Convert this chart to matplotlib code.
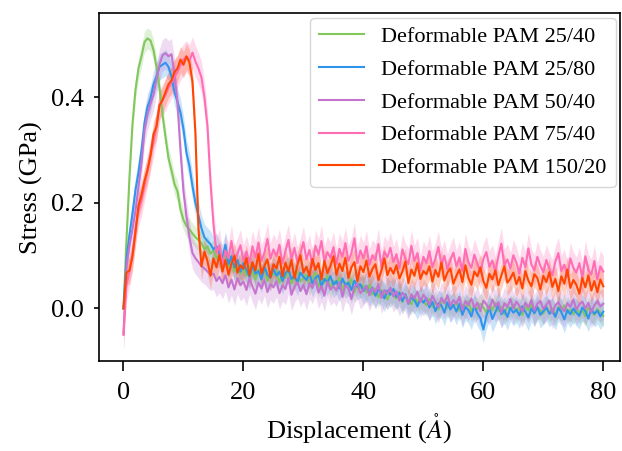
import numpy as np
import matplotlib
matplotlib.use('Agg')
import matplotlib.pyplot as plt

plt.rcParams.update({
    'font.family': 'Liberation Serif',
    'mathtext.fontset': 'stix',
    'font.size': 19,
})

# Displacement grid (Angstrom), sampled every 0.5 A
DISP = np.linspace(0, 80, 161)

# Stress values in MPa
PAM_25_40 = [0, 130, 250, 350, 415, 455, 478, 505, 512, 508, 490, 458, 418, 368, 325, 285,
             262, 236, 222, 188, 168, 156, 150, 142, 135, 130, 124, 112, 118, 104, 110, 96, 100,
             88, 102, 79, 91, 70, 84, 66, 78,
             62, 81, 69, 55, 74, 60, 77, 52, 68, 63,
             71, 49, 66, 58, 75, 47, 62, 70, 51, 59,
             64, 44, 57, 68, 41, 55, 49, 62, 38, 53,
             46, 58, 35, 50, 43, 56, 31, 47, 39, 44,
             30, 45, 26, 38, 21, 35, 29, 17, 33, 24,
             19, 31, 12, 26, 15, 8, 23, 11, 20, 14,
             6, 18, 3, 13, -2, 10, 16, 1, 9, 4,
             12, -4, 7, 0, 14, -6, 5, -1, 9, 2,
             -8, 6, -3, 10, -5, 3, -11, 4, -2, 7,
             -6, 2, -12, 5, -4, 8, -9, 1, -3, -10,
             4, -7, 0, -13, 3, -5, 6, -8, -2, -11,
             1, -9, -4, -15, 2, -6, -12, -1, -8, -14]

PAM_25_80 = [0, 95, 140, 180, 225, 258, 300, 352, 382, 398, 425, 440, 458, 462, 466, 458,
             440, 410, 392, 372, 340, 295, 270, 232, 200, 176, 152, 135, 128, 122, 112, 118, 104,
             96, 121, 84, 99, 78, 92, 70, 86,
             73, 60, 82, 66, 71, 55, 79, 64, 58, 75,
             62, 70, 52, 67, 74, 56, 63, 49, 68, 60,
             54, 66, 47, 58, 63, 42, 56, 50, 61, 45,
             52, 38, 57, 44, 49, 35, 53, 41, 46, 33,
             43, 29, 40, 24, 36, 31, 19, 34, 26, 37,
             22, 30, 14, 27, 9, 21, 16, 4, 18, 11,
             20, 2, 13, -5, 10, 6, -8, 12, -2, 7,
             -6, 9, -12, 3, -3, -15, 5, -9, -18, -40,
             -14, 2, -20, -7, 6, -11, -3, -16, 1, -8,
             -2, -13, 4, -6, -17, 0, -9, 3, -12, -5,
             2, -10, -4, -16, 1, -7, -21, -3, -11, 0,
             -8, -14, 2, -5, -19, -1, -10, -4, -15, -6]

PAM_50_40 = [-48, 80, 120, 150, 185, 230, 275, 338, 368, 388, 405, 435, 462, 480, 484, 478,
             482, 445, 390, 300, 222, 175, 135, 105, 95, 88, 80, 76, 70, 64, 66, 52, 60,
             48, 63, 40, 55, 36, 58, 44, 51,
             35, 57, 42, 28, 49, 38, 54, 31, 46, 40,
             52, 29, 44, 37, 58, 26, 41, 50, 33, 45,
             27, 48, 39, 55, 30, 43, 24, 51, 36, 42,
             34, 50, 22, 44, 38, 18, 41, 47, 29, 36,
             43, 25, 39, 31, 46, 20, 35, 28, 40, 23,
             33, 15, 30, 24, 9, 27, 19, 32, 12, 26,
             18, 7, 24, 13, 2, 20, 10, 25, 5, 16,
             9, 22, -3, 14, 6, 19, 1, 11, -5, 15,
             8, -2, 17, 4, 12, -8, 10, 3, 18, 0,
             13, 5, -6, 11, 2, 16, -4, 9, 14, -1,
             7, 15, -9, 6, 12, 1, -5, 10, 3, 17,
             -2, 8, 13, 0, 11, -7, 6, 14, 4, 9]

PAM_75_40 = [-50, 45, 70, 100, 150, 185, 205, 232, 262, 290, 315, 345, 385, 395, 405, 418,
             428, 440, 448, 462, 472, 478, 470, 485, 468, 455, 438, 400, 345, 240, 160, 105, 120,
             82, 110, 95, 128, 88, 104, 120, 91,
             108, 86, 118, 97, 125, 90, 106, 132, 94, 112,
             99, 121, 85, 109, 130, 92, 115, 87, 104, 126,
             93, 111, 80, 119, 102, 128, 88, 107, 96, 116,
             84, 113, 98, 124, 90, 105, 133, 86, 110, 95,
             118, 83, 101, 92, 122, 79, 108, 97, 115, 88,
             103, 76, 112, 94, 84, 119, 90, 105, 72, 98,
             86, 109, 78, 95, 117, 83, 100, 74, 92, 106,
             80, 97, 71, 113, 88, 77, 102, 85, 68, 94,
             107, 79, 91, 70, 99, 123, 82, 93, 76, 101,
             87, 66, 96, 78, 114, 84, 72, 98, 81, 69,
             92, 75, 63, 89, 105, 71, 83, 60, 95, 77,
             68, 86, 58, 99, 73, 64, 90, 55, 80, 70]

PAM_150_20 = [0, 68, 72, 100, 145, 195, 215, 242, 262, 290, 330, 345, 385, 395, 410, 425,
              432, 448, 455, 472, 462, 478, 466, 430, 330, 150, 80, 108, 90, 62, 95, 78, 102,
              70, 92, 64, 85, 100, 68, 82, 75,
              96, 63, 88, 72, 104, 66, 81, 93, 59, 84,
              76, 98, 61, 87, 70, 92, 57, 83, 101, 68,
              79, 62, 94, 73, 86, 55, 90, 67, 81, 99,
              64, 85, 71, 96, 58, 78, 88, 52, 80, 69,
              91, 60, 75, 84, 54, 72, 95, 63, 77, 66,
              82, 57, 70, 89, 48, 74, 62, 86, 56, 71,
              65, 80, 51, 73, 60, 87, 53, 68, 76, 47,
              62, 74, 50, 82, 58, 45, 70, 61, 78, 52,
              39, 66, 55, 72, 44, 63, 80, 49, 57, 68,
              46, 60, 38, 71, 53, 42, 65, 58, 36, 62,
              50, 69, 41, 56, 33, 61, 47, 74, 39, 54,
              45, 28, 58, 40, 63, 34, 52, 31, 55, 42]

# Approximate half-width of the shaded spread (MPa)
SPREAD = [20, 25, 30, 30, 25]

LABELS = ['Deformable PAM 25/40', 'Deformable PAM 25/80', 'Deformable PAM 50/40',
          'Deformable PAM 75/40', 'Deformable PAM 150/20']
SERIES = [PAM_25_40, PAM_25_80, PAM_50_40, PAM_75_40, PAM_150_20]
COLORS = ['#80c85c', '#2f95ec', '#c474cf', '#ff6db5', '#ff4500']

fig, ax = plt.subplots(figsize=(6.22, 4.51), dpi=100)
fig.subplots_adjust(left=0.159, right=0.997, bottom=0.199, top=0.971)

for vals, spread, label, color in zip(SERIES, SPREAD, LABELS, COLORS):
    y = np.array(vals) / 1000.0
    s = spread / 1000.0
    ax.fill_between(DISP, y - s, y + s, color=color, alpha=0.25, linewidth=0)
    ax.plot(DISP, y, color=color, linewidth=1.5, label=label)

ax.set_xlim(-4.1, 82.8)
ax.set_ylim(-0.10, 0.56)
ax.set_xticks([0, 20, 40, 60, 80])
ax.set_yticks([0.0, 0.2, 0.4])
ax.tick_params(axis='x', length=7, width=1.2, pad=8)
ax.tick_params(axis='y', length=3.5, width=1.2, pad=7)
ax.set_xlabel(r'Displacement ($\mathring{A}$)', labelpad=6)
ax.set_ylabel('Stress (GPa)', labelpad=6)
ax.legend(loc='upper right', fontsize=16, labelspacing=0.55, borderaxespad=0.2,
          handlelength=2.0, handletextpad=0.8)
for sp in ax.spines.values():
    sp.set_linewidth(1.2)

fig.savefig('out.png', dpi=100)
